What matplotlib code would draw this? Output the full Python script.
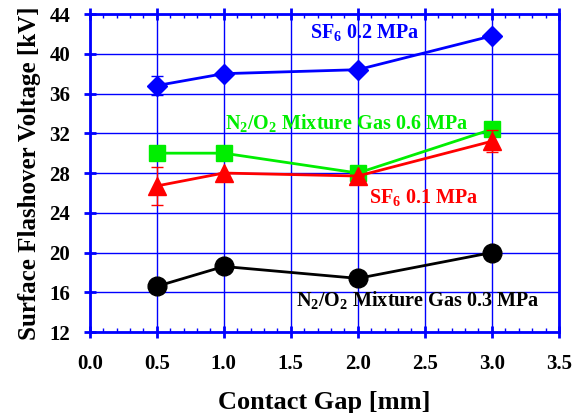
import matplotlib
matplotlib.use("Agg")
import matplotlib.pyplot as plt
from matplotlib.ticker import MultipleLocator

plt.rcParams['font.family'] = ['Liberation Serif', 'DejaVu Serif']
plt.rcParams['font.weight'] = 'bold'
plt.rcParams['mathtext.fontset'] = 'custom'
plt.rcParams['mathtext.rm'] = 'Liberation Serif:bold'
plt.rcParams['mathtext.bf'] = 'Liberation Serif:bold'

gap = [0.5, 1.0, 2.0, 3.0]
sf6_02 = [36.8, 38.0, 38.4, 41.8]
sf6_02_err = [0.95, 0, 0, 0]
n2o2_06 = [30.0, 30.0, 28.0, 32.4]
sf6_01 = [26.7, 28.0, 27.7, 31.2]
sf6_01_err = [1.95, 0, 0, 1.1]
n2o2_03 = [16.6, 18.6, 17.4, 20.0]

blue = '#0000ff'

fig = plt.figure(figsize=(5.81, 4.13), dpi=100)
ax = fig.add_axes((0.1544, 0.196, 0.8076, 0.770))

ax.errorbar(gap, sf6_02, yerr=sf6_02_err, color=blue, marker='D', ms=10,
            lw=2, capsize=4, elinewidth=1, zorder=5)
ax.plot(gap, n2o2_06, color='#00ee00', marker='s', ms=11.5, lw=2, zorder=4)
ax.errorbar(gap, sf6_01, yerr=sf6_01_err, color='red', marker='^', ms=13,
            lw=2, capsize=4, elinewidth=1, zorder=5)
ax.plot(gap, n2o2_03, color='black', marker='o', ms=13.5, lw=2, zorder=4)

ax.text(1.64, 42.1, r'SF$_6$ 0.2 MPa', color=blue, fontsize=14.5, va='center')
ax.text(1.01, 33.0, r'N$_2$/O$_2$ Mixture Gas 0.6 MPa', color='#00ee00',
        fontsize=14.5, va='center')
ax.text(2.08, 25.5, r'SF$_6$ 0.1 MPa', color='red', fontsize=14.5, va='center')
ax.text(1.54, 15.1, r'N$_2$/O$_2$ Mixture Gas 0.3 MPa', color='black',
        fontsize=14.5, va='center')

ax.set_xlim(0, 3.5)
ax.set_ylim(12, 44)
ax.xaxis.set_major_locator(MultipleLocator(0.5))
ax.xaxis.set_minor_locator(MultipleLocator(0.1))
ax.yaxis.set_major_locator(MultipleLocator(4))
ax.xaxis.set_major_formatter(plt.FormatStrFormatter('%.1f'))

ax.grid(True, which='major', color=blue, lw=1)
ax.set_axisbelow(True)
for s in ax.spines.values():
    s.set_color(blue)
    s.set_linewidth(2)

ax.tick_params(which='major', direction='inout', length=8, width=2,
               color=blue, labelsize=15, top=True)
ax.tick_params(which='minor', direction='in', length=3, width=1,
               color=blue, top=True)
ax.tick_params(axis='x', pad=12)
ax.tick_params(axis='y', pad=10)

ax.set_xlabel('Contact Gap [mm]', fontsize=19, fontweight='bold', labelpad=12)
ax.set_ylabel('Surface Flashover Voltage [kV]', fontsize=18,
              fontweight='bold', labelpad=6)

fig.savefig('out.png', dpi=100)
